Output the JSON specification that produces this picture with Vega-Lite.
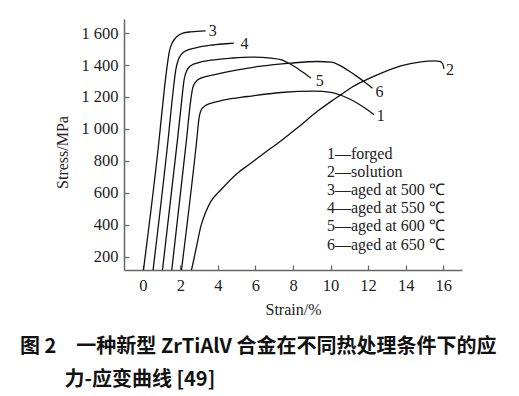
{
  "$schema": "https://vega.github.io/schema/vega-lite/v6.json",
  "width": 338,
  "height": 251,
  "autosize": "none",
  "padding": {"left": 124, "top": 19, "right": 57, "bottom": 126},
  "background": "white",
  "title": {
    "text": ["图 2\u3000一种新型 ZrTiAlV 合金在不同热处理条件下的应", "\u200b\u3000\u3000 力-应变曲线 [49]"],
    "orient": "bottom",
    "anchor": "start",
    "frame": "group",
    "dx": -104,
    "offset": 19,
    "font": "Noto Sans CJK SC",
    "fontSize": 20,
    "fontWeight": "bold",
    "lineHeight": 33,
    "color": "#111"
  },
  "config": {
    "view": {"stroke": null},
    "axis": {
      "grid": false,
      "domainColor": "#666",
      "domainWidth": 1.5,
      "tickColor": "#666",
      "tickWidth": 1.2,
      "tickSize": -5,
      "labelFont": "Liberation Serif",
      "labelFontSize": 16.5,
      "labelColor": "#222",
      "labelOverlap": false,
      "titleFont": "Liberation Serif",
      "titleFontSize": 16,
      "titleFontWeight": "normal",
      "titleColor": "#222"
    },
    "legend": {
      "orient": "none",
      "legendX": 187,
      "legendY": 127,
      "padding": 0,
      "symbolOpacity": 0,
      "symbolSize": 0,
      "symbolStrokeWidth": 0,
      "labelOffset": 0,
      "labelFont": "Liberation Serif",
      "labelFontSize": 16,
      "labelColor": "#222",
      "rowPadding": 2.1,
      "labelLimit": 300
    }
  },
  "datasets": {
    "curves": [
      {"series": "1—forged", "strain": 2.061, "stress": 117},
      {"series": "1—forged", "strain": 2.875, "stress": 931},
      {"series": "1—forged", "strain": 2.998, "stress": 1069},
      {"series": "1—forged", "strain": 3.088, "stress": 1113},
      {"series": "1—forged", "strain": 3.248, "stress": 1138},
      {"series": "1—forged", "strain": 3.461, "stress": 1154},
      {"series": "1—forged", "strain": 3.797, "stress": 1166},
      {"series": "1—forged", "strain": 4.33, "stress": 1182},
      {"series": "1—forged", "strain": 5.58, "stress": 1203},
      {"series": "1—forged", "strain": 7.35, "stress": 1228},
      {"series": "1—forged", "strain": 9.13, "stress": 1237},
      {"series": "1—forged", "strain": 10.01, "stress": 1229},
      {"series": "1—forged", "strain": 10.72, "stress": 1203},
      {"series": "1—forged", "strain": 11.43, "stress": 1161},
      {"series": "1—forged", "strain": 11.93, "stress": 1123},
      {"series": "1—forged", "strain": 12.32, "stress": 1088},

      {"series": "2—solution", "strain": 2.593, "stress": 117},
      {"series": "2—solution", "strain": 2.689, "stress": 167},
      {"series": "2—solution", "strain": 2.822, "stress": 242},
      {"series": "2—solution", "strain": 2.955, "stress": 317},
      {"series": "2—solution", "strain": 3.088, "stress": 388},
      {"series": "2—solution", "strain": 3.355, "stress": 480},
      {"series": "2—solution", "strain": 3.62, "stress": 545},
      {"series": "2—solution", "strain": 4.153, "stress": 618},
      {"series": "2—solution", "strain": 5.043, "stress": 723},
      {"series": "2—solution", "strain": 5.75, "stress": 785},
      {"series": "2—solution", "strain": 6.459, "stress": 848},
      {"series": "2—solution", "strain": 7.35, "stress": 925},
      {"series": "2—solution", "strain": 8.24, "stress": 1007},
      {"series": "2—solution", "strain": 9.3, "stress": 1110},
      {"series": "2—solution", "strain": 10.01, "stress": 1171},
      {"series": "2—solution", "strain": 10.54, "stress": 1213},
      {"series": "2—solution", "strain": 11.18, "stress": 1264},
      {"series": "2—solution", "strain": 11.78, "stress": 1301},
      {"series": "2—solution", "strain": 12.67, "stress": 1348},
      {"series": "2—solution", "strain": 13.74, "stress": 1395},
      {"series": "2—solution", "strain": 14.8, "stress": 1420},
      {"series": "2—solution", "strain": 15.51, "stress": 1426},
      {"series": "2—solution", "strain": 15.81, "stress": 1423},
      {"series": "2—solution", "strain": 15.97, "stress": 1408},
      {"series": "2—solution", "strain": 16.04, "stress": 1376},

      {"series": "3—aged at 500 ℃", "strain": 0.037, "stress": 117},
      {"series": "3—aged at 500 ℃", "strain": 0.868, "stress": 931},
      {"series": "3—aged at 500 ℃", "strain": 1.145, "stress": 1245},
      {"series": "3—aged at 500 ℃", "strain": 1.305, "stress": 1401},
      {"series": "3—aged at 500 ℃", "strain": 1.411, "stress": 1483},
      {"series": "3—aged at 500 ℃", "strain": 1.571, "stress": 1539},
      {"series": "3—aged at 500 ℃", "strain": 1.81, "stress": 1577},
      {"series": "3—aged at 500 ℃", "strain": 2.13, "stress": 1599},
      {"series": "3—aged at 500 ℃", "strain": 2.56, "stress": 1608},
      {"series": "3—aged at 500 ℃", "strain": 3.35, "stress": 1614},

      {"series": "4—aged at 550 ℃", "strain": 0.548, "stress": 117},
      {"series": "4—aged at 550 ℃", "strain": 1.347, "stress": 931},
      {"series": "4—aged at 550 ℃", "strain": 1.624, "stress": 1245},
      {"series": "4—aged at 550 ℃", "strain": 1.757, "stress": 1370},
      {"series": "4—aged at 550 ℃", "strain": 1.89, "stress": 1432},
      {"series": "4—aged at 550 ℃", "strain": 2.077, "stress": 1470},
      {"series": "4—aged at 550 ℃", "strain": 2.343, "stress": 1492},
      {"series": "4—aged at 550 ℃", "strain": 2.822, "stress": 1508},
      {"series": "4—aged at 550 ℃", "strain": 3.62, "stress": 1524},
      {"series": "4—aged at 550 ℃", "strain": 4.42, "stress": 1533},
      {"series": "4—aged at 550 ℃", "strain": 4.85, "stress": 1537},

      {"series": "5—aged at 600 ℃", "strain": 1.049, "stress": 117},
      {"series": "5—aged at 600 ℃", "strain": 1.848, "stress": 931},
      {"series": "5—aged at 600 ℃", "strain": 2.077, "stress": 1182},
      {"series": "5—aged at 600 ℃", "strain": 2.199, "stress": 1307},
      {"series": "5—aged at 600 ℃", "strain": 2.343, "stress": 1364},
      {"series": "5—aged at 600 ℃", "strain": 2.556, "stress": 1396},
      {"series": "5—aged at 600 ℃", "strain": 2.929, "stress": 1414},
      {"series": "5—aged at 600 ℃", "strain": 3.62, "stress": 1430},
      {"series": "5—aged at 600 ℃", "strain": 4.69, "stress": 1443},
      {"series": "5—aged at 600 ℃", "strain": 5.75, "stress": 1450},
      {"series": "5—aged at 600 ℃", "strain": 6.82, "stress": 1443},
      {"series": "5—aged at 600 ℃", "strain": 7.35, "stress": 1433},
      {"series": "5—aged at 600 ℃", "strain": 7.72, "stress": 1414},
      {"series": "5—aged at 600 ℃", "strain": 8.15, "stress": 1386},
      {"series": "5—aged at 600 ℃", "strain": 8.57, "stress": 1351},
      {"series": "5—aged at 600 ℃", "strain": 8.95, "stress": 1318},

      {"series": "6—aged at 650 ℃", "strain": 1.544, "stress": 117},
      {"series": "6—aged at 650 ℃", "strain": 2.327, "stress": 931},
      {"series": "6—aged at 650 ℃", "strain": 2.556, "stress": 1182},
      {"series": "6—aged at 650 ℃", "strain": 2.662, "stress": 1257},
      {"series": "6—aged at 650 ℃", "strain": 2.822, "stress": 1295},
      {"series": "6—aged at 650 ℃", "strain": 3.09, "stress": 1318},
      {"series": "6—aged at 650 ℃", "strain": 3.78, "stress": 1339},
      {"series": "6—aged at 650 ℃", "strain": 5.06, "stress": 1370},
      {"series": "6—aged at 650 ℃", "strain": 6.18, "stress": 1391},
      {"series": "6—aged at 650 ℃", "strain": 7.88, "stress": 1412},
      {"series": "6—aged at 650 ℃", "strain": 9.3, "stress": 1422},
      {"series": "6—aged at 650 ℃", "strain": 10.01, "stress": 1418},
      {"series": "6—aged at 650 ℃", "strain": 10.54, "stress": 1395},
      {"series": "6—aged at 650 ℃", "strain": 10.92, "stress": 1367},
      {"series": "6—aged at 650 ℃", "strain": 11.4, "stress": 1329},
      {"series": "6—aged at 650 ℃", "strain": 11.78, "stress": 1297},
      {"series": "6—aged at 650 ℃", "strain": 12.23, "stress": 1255}
    ],
    "labels": [
      {"label": "1", "strain": 12.67, "stress": 1080},
      {"label": "2", "strain": 16.36, "stress": 1370},
      {"label": "3", "strain": 3.73, "stress": 1610},
      {"label": "4", "strain": 5.42, "stress": 1534},
      {"label": "5", "strain": 9.43, "stress": 1300},
      {"label": "6", "strain": 12.6, "stress": 1231}
    ]
  },
  "layer": [
    {
      "data": {"name": "curves"},
      "mark": {"type": "line", "strokeWidth": 1.3, "clip": true, "interpolate": "monotone"},
      "encoding": {
        "x": {
          "field": "strain",
          "type": "quantitative",
          "scale": {"domain": [-1, 17], "nice": false, "zero": false},
          "axis": {"title": "Strain/%", "values": [0, 2, 4, 6, 8, 10, 12, 14, 16], "tickCount": 12, "labelPadding": 12, "titlePadding": 8}
        },
        "y": {
          "field": "stress",
          "type": "quantitative",
          "scale": {"domain": [117, 1688], "nice": false, "zero": false},
          "axis": {
            "title": "Stress/MPa",
            "values": [200, 400, 600, 800, 1000, 1200, 1400, 1600],
            "tickCount": 12,
            "labelExpr": "replace(format(datum.value, ','), ',', ' ')",
            "labelOverlap": false,
            "labelBound": false,
            "labelPadding": 11,
            "titlePadding": 10,
            "titleY": 133
          }
        },
        "color": {
          "field": "series",
          "type": "nominal",
          "scale": {"range": ["#111", "#111", "#111", "#111", "#111", "#111"]},
          "legend": {"title": null}
        }
      }
    },
    {
      "data": {"name": "labels"},
      "mark": {"type": "text", "font": "Liberation Serif", "fontSize": 16, "color": "#222", "align": "center", "baseline": "middle"},
      "encoding": {
        "x": {"field": "strain", "type": "quantitative"},
        "y": {"field": "stress", "type": "quantitative"},
        "text": {"field": "label"}
      }
    }
  ]
}
